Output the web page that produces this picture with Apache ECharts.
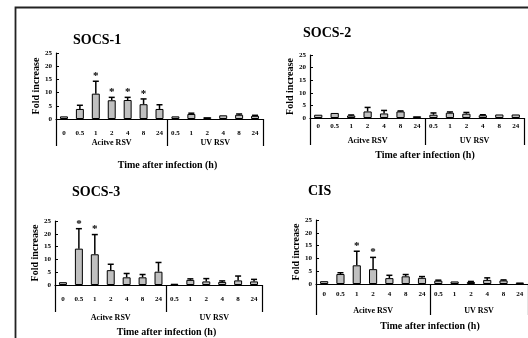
<!DOCTYPE html>
<html>
<head>
<meta charset="utf-8">
<script src="https://cdn.jsdelivr.net/npm/echarts@6/dist/echarts.min.js"></script>
<style>
  html, body { margin: 0; padding: 0; background: #fff; }
  #chart { width: 528px; height: 338px; }
</style>
</head>
<body>
<div id="chart"></div>
<script>
// categories: 7 time points after active RSV, 6 after UV-inactivated RSV
const categories = ['0', '0.5', '1', '2', '4', '8', '24', '0.5', '1', '2', '4', '8', '24'];
const groupNames = ['Acitve RSV', 'UV RSV'];
const yTicks = [0, 5, 10, 15, 20, 25];
const panelTitles = ['SOCS-1', 'SOCS-2', 'SOCS-3', 'CIS'];

// mean fold increase, top of error bar, significance star
const socs1Mean = [1.0, 3.8, 9.6, 7.1, 7.2, 5.6, 3.8, 1.0, 1.9, 0.7, 1.4, 1.6, 1.2];
const socs1Err = [1.0, 5.2, 14.3, 8.2, 8.2, 7.6, 5.4, 1.1, 2.2, 0.8, 1.5, 1.9, 1.4];
const socs1Star = [0, 0, 1, 1, 1, 1, 0, 0, 0, 0, 0, 0, 0];

const socs2Mean = [1.3, 2.0, 1.0, 2.6, 1.8, 2.6, 0.7, 1.3, 2.1, 1.7, 1.1, 1.4, 1.4];
const socs2Err = [1.4, 2.1, 1.2, 4.2, 3.0, 2.8, 0.8, 2.0, 2.4, 2.2, 1.3, 1.5, 1.5];
const socs2Star = [0, 0, 0, 0, 0, 0, 0, 0, 0, 0, 0, 0, 0];

const socs3Mean = [1.1, 14.2, 12.0, 5.8, 3.0, 3.0, 5.2, 0.5, 2.0, 1.4, 1.2, 1.8, 1.4];
const socs3Err = [1.2, 22.0, 19.7, 8.1, 4.5, 4.1, 8.8, 0.6, 2.4, 2.5, 1.6, 3.5, 2.2];
const socs3Star = [0, 1, 1, 0, 0, 0, 0, 0, 0, 0, 0, 0, 0];

const cisMean = [1.1, 3.9, 7.3, 5.8, 2.3, 3.0, 2.4, 1.3, 1.0, 0.8, 1.6, 1.4, 0.6];
const cisErr = [1.2, 4.4, 12.8, 10.4, 3.4, 3.7, 2.9, 1.5, 1.1, 1.0, 2.4, 1.6, 0.7];
const cisStar = [0, 0, 1, 1, 0, 0, 0, 0, 0, 0, 0, 0, 0];

const means = [socs1Mean, socs2Mean, socs3Mean, cisMean];
const errs = [socs1Err, socs2Err, socs3Err, cisErr];
const stars = [socs1Star, socs2Star, socs3Star, cisStar];

// panel placement (pixels)
const layouts = [
    { left: 56, top: 53, width: 207, height: 66, catMargin: 11, grpMargin: 20, tickLen: 27, nameGap: 41, tx: 73, ty: 33 },
    { left: 310, top: 55, width: 214, height: 63, catMargin: 5, grpMargin: 19, tickLen: 27, nameGap: 32, tx: 303, ty: 26 },
    { left: 55, top: 221, width: 207, height: 64, catMargin: 11, grpMargin: 29, tickLen: 27, nameGap: 42, tx: 72, ty: 185 },
    { left: 316, top: 220, width: 213, height: 64, catMargin: 7, grpMargin: 23, tickLen: 31, nameGap: 37, tx: 308, ty: 184 }
];

const FONT = 'Liberation Serif';

function errRender (params, api) {
    let i = api.value(0)
    let p0 = api.coord([i, api.value(1)])
    let p1 = api.coord([i, api.value(2)])
    let children = []
    if (p1[1] < p0[1] - 0.5) {
        children.push({
            type: 'line',
            shape: { x1: p0[0], y1: p0[1], x2: p1[0], y2: p1[1] },
            style: { stroke: '#000', lineWidth: 1.5 }
        })
        children.push({
            type: 'line',
            shape: { x1: p1[0] - 3, y1: p1[1], x2: p1[0] + 3, y2: p1[1] },
            style: { stroke: '#000', lineWidth: 1.5 }
        })
    }
    if (api.value(3)) {
        children.push({
            type: 'text',
            style: {
                text: '*', x: p1[0], y: p1[1] - 5,
                align: 'center', verticalAlign: 'middle',
                font: 'bold 11px ' + FONT, fill: '#000'
            }
        })
    }
    return { type: 'group', children: children }
}

let grids = [], xAxes = [], yAxes = [], series = [], titles = []
layouts.forEach((l, k) => {
    grids.push({ left: l.left, top: l.top, width: l.width, height: l.height })
    titles.push({
        text: panelTitles[k], left: l.tx, top: l.ty, padding: 0,
        textStyle: { fontFamily: FONT, fontWeight: 'bold', fontSize: 14, color: '#000' }
    })
    // time point axis
    xAxes.push({
        type: 'category', gridIndex: k, data: categories, position: 'bottom',
        axisLine: { lineStyle: { color: '#000', width: 1.2 } },
        axisTick: { show: false },
        axisLabel: { margin: l.catMargin, interval: 0, fontFamily: FONT, fontWeight: 'bold', fontSize: 7, color: '#000' }
    })
    // group axis: dividers + group labels
    xAxes.push({
        type: 'value', gridIndex: k, position: 'bottom', min: 0, max: categories.length,
        axisLine: { show: false },
        splitLine: { show: false },
        axisTick: { show: true, customValues: [0, 7, 13], length: l.tickLen, lineStyle: { color: '#000', width: 1.2 } },
        axisLabel: {
            customValues: [3.5, 10], margin: l.grpMargin,
            formatter: v => (v < 7 ? groupNames[0] : groupNames[1]),
            fontFamily: FONT, fontWeight: 'bold', fontSize: 8, color: '#000'
        },
        name: 'Time after infection (h)', nameLocation: 'middle', nameGap: l.nameGap,
        nameTextStyle: { fontFamily: FONT, fontWeight: 'bold', fontSize: 10, color: '#000', padding: [0, 0, 0, 16] }
    })
    yAxes.push({
        type: 'value', gridIndex: k, min: 0, max: 25, interval: 5,
        name: 'Fold increase', nameLocation: 'middle', nameGap: 12,
        nameTextStyle: { fontFamily: FONT, fontWeight: 'bold', fontSize: 10, color: '#000' },
        axisLine: { show: true, lineStyle: { color: '#000', width: 1.2 } },
        axisTick: { show: true, inside: true, length: 3, lineStyle: { color: '#000' } },
        axisLabel: {
            margin: 4, fontFamily: FONT, fontWeight: 'bold', fontSize: 7, color: '#000',
            formatter: v => (yTicks.indexOf(v) >= 0 ? String(v) : '')
        },
        splitLine: { show: false }
    })
    series.push({
        type: 'bar', xAxisIndex: k * 2, yAxisIndex: k, data: means[k], barWidth: '50%',
        itemStyle: { color: '#c0c0c0', borderColor: '#000', borderWidth: 1 },
        animation: false
    })
    series.push({
        type: 'custom', xAxisIndex: k * 2, yAxisIndex: k, renderItem: errRender, z: 5,
        data: means[k].map((m, i) => [i, m, errs[k][i], stars[k][i]]),
        animation: false
    })
})

let myChart = echarts.init(document.getElementById('chart'))
myChart.setOption({
    animation: false,
    title: titles,
    grid: grids,
    xAxis: xAxes,
    yAxis: yAxes,
    series: series,
    graphic: [{
        type: 'rect', left: 13, top: 5, silent: true,
        shape: { width: 600, height: 400 },
        style: { fill: 'none', stroke: '#222', lineWidth: 1.8 }
    }]
})
</script>
</body>
</html>
